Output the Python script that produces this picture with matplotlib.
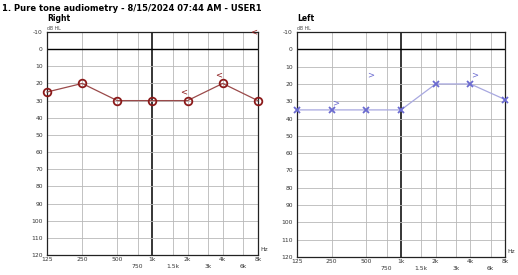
import numpy as np
import matplotlib.pyplot as plt

freqs = [125, 250, 500, 1000, 2000, 4000, 8000]
right_air = [25, 20, 30, 30, 30, 20, 30]
left_air = [35, 35, 35, 35, 20, 20, 29]

right_bone_f = [2000, 4000, 8000]
right_bone = [25, 15, -10]
left_bone_f = [250, 500, 4000]
left_bone = [31, 15, 15]

grid_f = [125, 250, 500, 750, 1000, 1500, 2000, 3000, 4000, 6000, 8000]
top_labels = {125: "125", 250: "250", 500: "500", 1000: "1k", 2000: "2k", 4000: "4k", 8000: "8k"}
low_labels = {750: "750", 1500: "1.5k", 3000: "3k", 6000: "6k"}
db_ticks = list(range(-10, 121, 10))

fig = plt.figure(figsize=(5.18, 2.75), dpi=100)
fig.text(0.004, 0.985, "1. Pure tone audiometry - 8/15/2024 07:44 AM - USER1",
         fontsize=6, fontweight="bold", va="top", ha="left")


def panel(rect, name, air, bone_f, bone, col, lcol, mk, bmk, boff):
    ax = fig.add_axes(rect)
    ax.set_xscale("log")
    ax.set_xlim(125, 8000)
    ax.set_ylim(120, -10)
    ax.minorticks_off()
    for f in grid_f:
        if f == 1000:
            ax.axvline(f, color="black", lw=1.1, zorder=1)
        else:
            ax.axvline(f, color="#b8b8b8", lw=0.6, zorder=1)
    for d in db_ticks:
        if d == 0:
            ax.axhline(d, color="black", lw=1.0, zorder=1)
        else:
            ax.axhline(d, color="#b8b8b8", lw=0.6, zorder=1)
    ax.set_yticks(db_ticks)
    ax.set_yticklabels([str(d) for d in db_ticks], fontsize=4.3, color="#333333")
    ax.set_xticks([])
    for f, s in top_labels.items():
        ax.annotate(s, (f, 0), xycoords=("data", "axes fraction"), xytext=(0, -1.5),
                    textcoords="offset points", fontsize=4.3, ha="center", va="top",
                    color="#333333")
    for f, s in low_labels.items():
        ax.annotate(s, (f, 0), xycoords=("data", "axes fraction"), xytext=(0, -6.5),
                    textcoords="offset points", fontsize=4.3, ha="center", va="top",
                    color="#333333")
    ax.tick_params(axis="y", length=0, pad=3)
    for sp in ax.spines.values():
        sp.set_color("#222222")
        sp.set_linewidth(0.9)
    ax.plot(freqs, air, color=lcol, lw=0.9, marker=mk, ms=5.5 if mk == "o" else 5,
            mfc="none", mec=col, mew=1.3, zorder=3, clip_on=False)
    for f, b in zip(bone_f, bone):
        ax.text(f * boff, b, bmk, fontsize=6, color=col, ha="center", va="center")
    ax.annotate(name, (0, 1), xycoords="axes fraction", xytext=(0, 6.5),
                textcoords="offset points", fontsize=5.5, fontweight="bold",
                ha="left", va="bottom")
    ax.annotate("dB HL", (0, 1), xycoords="axes fraction", xytext=(0, 0.5),
                textcoords="offset points", fontsize=3.3, ha="left", va="bottom",
                color="#444444")
    ax.annotate("Hz", (1, 0), xycoords="axes fraction", xytext=(2, 2),
                textcoords="offset points", fontsize=4.3, ha="left", va="bottom",
                color="#333333")
    return ax


panel([0.0907, 0.0727, 0.407, 0.811], "Right", right_air, right_bone_f, right_bone,
      "#8b1a1a", "#9a4a4a", "o", "<", 0.92)
panel([0.5734, 0.0655, 0.4015, 0.818], "Left", left_air, left_bone_f, left_bone,
      "#6a6ad0", "#a8a8e0", "x", ">", 1.08)

fig.savefig("out.png", dpi=100)
